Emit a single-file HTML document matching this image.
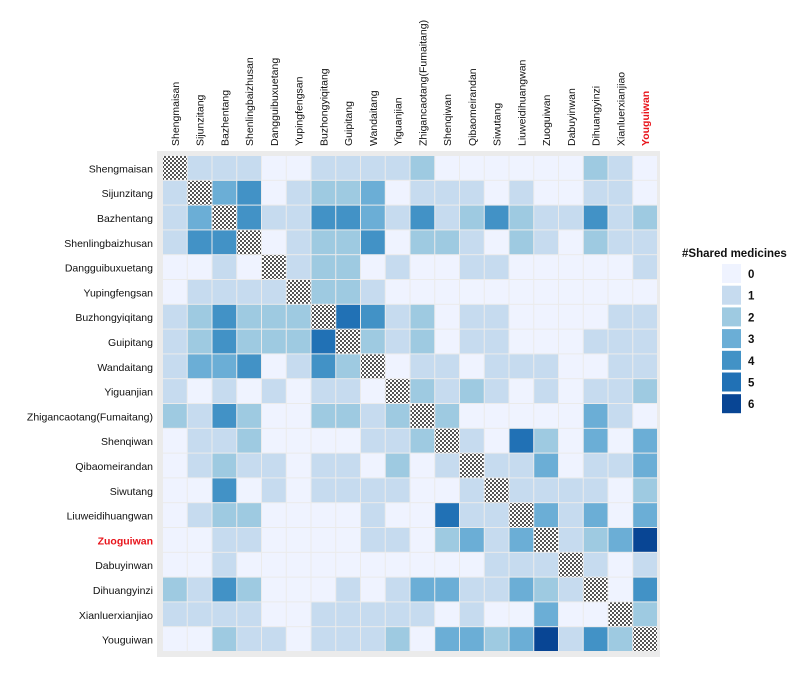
<!DOCTYPE html>
<html><head><meta charset="utf-8"><style>
body{margin:0;background:#fff;font-family:"Liberation Sans",sans-serif;}
svg text{font-family:"Liberation Sans",sans-serif;}
</style></head><body>
<svg id="chart" width="800" height="671" xmlns="http://www.w3.org/2000/svg">
<defs><pattern id="chk" width="4" height="4" patternUnits="userSpaceOnUse"><rect width="4" height="4" fill="#fff"/><rect width="2" height="2" fill="#555"/><rect x="2" y="2" width="2" height="2" fill="#555"/></pattern></defs>
<rect x="157" y="151" width="503" height="506" fill="#ebebeb"/>
<g id="cells"></g><g id="xlabels"></g><g id="ylabels"></g>
<g id="legend">
<text x="682" y="257" font-size="11.5" font-weight="bold" fill="#111">#Shared medicines</text>
</g>
</svg>
<script>
const names=["Shengmaisan","Sijunzitang","Bazhentang","Shenlingbaizhusan","Dangguibuxuetang","Yupingfengsan","Buzhongyiqitang","Guipitang","Wandaitang","Yiguanjian","Zhigancaotang(Fumaitang)","Shenqiwan","Qibaomeirandan","Siwutang","Liuweidihuangwan","Zuoguiwan","Dabuyinwan","Dihuangyinzi","Xianluerxianjiao","Youguiwan"];
const values=[
[-1,1,1,1,0,0,1,1,1,1,2,0,0,0,0,0,0,2,1,0],
[1,-1,3,4,0,1,2,2,3,0,1,1,1,0,1,0,0,1,1,0],
[1,3,-1,4,1,1,4,4,3,1,4,1,2,4,2,1,1,4,1,2],
[1,4,4,-1,0,1,2,2,4,0,2,2,1,0,2,1,0,2,1,1],
[0,0,1,0,-1,1,2,2,0,1,0,0,1,1,0,0,0,0,0,1],
[0,1,1,1,1,-1,2,2,1,0,0,0,0,0,0,0,0,0,0,0],
[1,2,4,2,2,2,-1,5,4,1,2,0,1,1,0,0,0,0,1,1],
[1,2,4,2,2,2,5,-1,2,1,2,0,1,1,0,0,0,1,1,1],
[1,3,3,4,0,1,4,2,-1,0,1,1,0,1,1,1,0,0,1,1],
[1,0,1,0,1,0,1,1,0,-1,2,1,2,1,0,1,0,1,1,2],
[2,1,4,2,0,0,2,2,1,2,-1,2,0,0,0,0,0,3,1,0],
[0,1,1,2,0,0,0,0,1,1,2,-1,1,0,5,2,0,3,0,3],
[0,1,2,1,1,0,1,1,0,2,0,1,-1,1,1,3,0,1,1,3],
[0,0,4,0,1,0,1,1,1,1,0,0,1,-1,1,1,1,1,0,2],
[0,1,2,2,0,0,0,0,1,0,0,5,1,1,-1,3,1,3,0,3],
[0,0,1,1,0,0,0,0,1,1,0,2,3,1,3,-1,1,2,3,6],
[0,0,1,0,0,0,0,0,0,0,0,0,0,1,1,1,-1,1,0,1],
[2,1,4,2,0,0,0,1,0,1,3,3,1,1,3,2,1,-1,0,4],
[1,1,1,1,0,0,1,1,1,1,1,0,1,0,0,3,0,0,-1,2],
[0,0,2,1,1,0,1,1,1,2,0,3,3,2,3,6,1,4,2,-1]];
const levels=[0,1,2,3,4,5,6];
const palette=["#eff3ff","#c6dbef","#9ecae1","#6baed6","#4292c6","#2171b5","#084594"];
const highlight=["Zuoguiwan","Youguiwan"];
const NS="http://www.w3.org/2000/svg";
const x0=163,y0=156,cw=24.75,ch=24.8;
const xs=i=>x0+i*cw, ys=j=>y0+j*ch;
const cells=document.getElementById('cells');
values.forEach((row,r)=>row.forEach((v,c)=>{
 const e=document.createElementNS(NS,'rect');
 e.setAttribute('x',xs(c));e.setAttribute('y',ys(r));e.setAttribute('width',cw-1);e.setAttribute('height',ch-1);
 e.setAttribute('fill',v<0?'url(#chk)':palette[v]);
 
 
 cells.appendChild(e);
}));
const xl=document.getElementById('xlabels'),yl=document.getElementById('ylabels');
names.forEach((n,i)=>{
 const hl=n==="Youguiwan";
 const t=document.createElementNS(NS,'text');
 const cx=xs(i)+cw/2+3.5;
 t.setAttribute('transform','translate('+cx+',146) rotate(-90)');
 t.setAttribute('font-size','10.5');t.setAttribute('fill',hl?'#e8141b':'#111');if(hl)t.setAttribute('font-weight','bold');
 t.textContent=n;
 
 
 xl.appendChild(t);
 const hy=n==="Zuoguiwan";
 const u=document.createElementNS(NS,'text');
 u.setAttribute('x',153);u.setAttribute('y',ys(i)+ch/2+4);u.setAttribute('text-anchor','end');
 u.setAttribute('font-size','10.5');u.setAttribute('fill',hy?'#e8141b':'#111');if(hy)u.setAttribute('font-weight','bold');
 u.textContent=n;
 
 
 yl.appendChild(u);
});
const lg=document.getElementById('legend');
levels.forEach((l,i)=>{
 const r=document.createElementNS(NS,'rect');
 r.setAttribute('x',722);r.setAttribute('y',264+i*21.7);r.setAttribute('width',19);r.setAttribute('height',19);r.setAttribute('fill',palette[i]);
 
 
 lg.appendChild(r);
 const t=document.createElementNS(NS,'text');
 t.setAttribute('x',748);t.setAttribute('y',278+i*21.7);t.setAttribute('font-size','11.5');t.setAttribute('font-weight','bold');t.setAttribute('fill','#111');
 t.textContent=l;
 
 
 lg.appendChild(t);
});
</script>
</body></html>
